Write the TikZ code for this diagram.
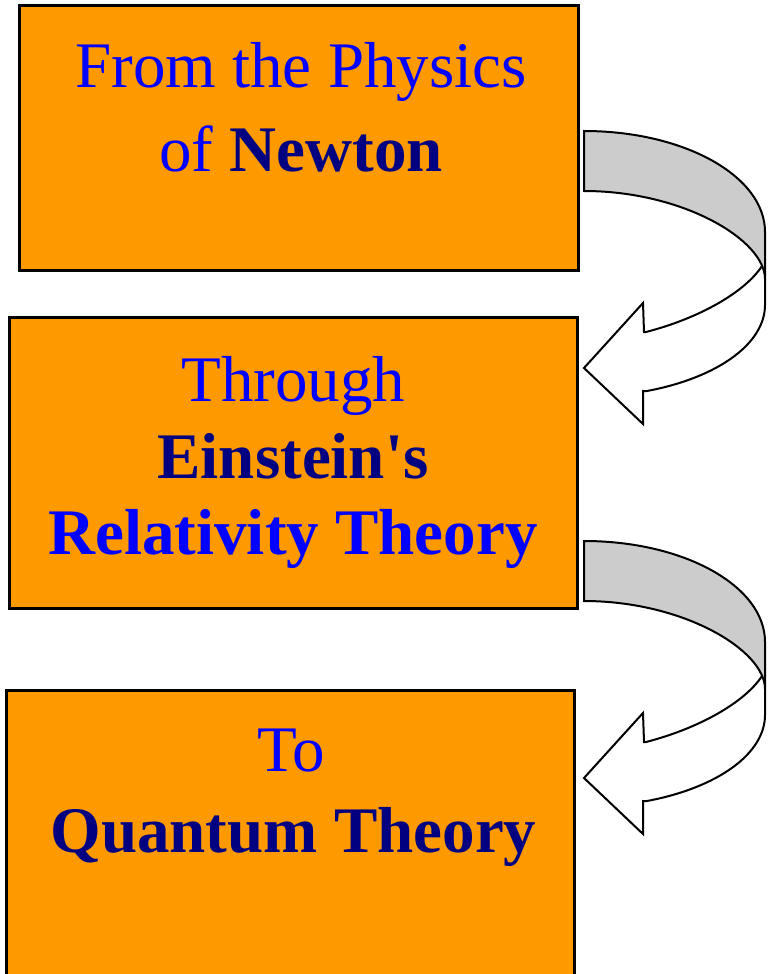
\documentclass[tikz,border=0pt]{standalone}
\usepackage{fontspec}
\setmainfont{Liberation Serif}[Ligatures=TeXOff]
\definecolor{boxorange}{RGB}{255,153,0}
\definecolor{txtblue}{RGB}{0,0,255}
\definecolor{txtnavy}{RGB}{0,0,128}
\definecolor{ribbon}{RGB}{204,204,204}
\tikzset{
  stagebox/.style={draw=black,line width=3pt,fill=boxorange,inner sep=0pt},
  lbl/.style={anchor=base,inner sep=0pt,font=\fontsize{65}{78}\selectfont},
  blue lbl/.style={lbl,text=txtblue},
  navy lbl/.style={lbl,text=txtnavy,font=\fontsize{65}{78}\selectfont\bfseries},
  ribbonface/.style={draw=black,fill=ribbon,line width=2pt,line join=miter},
  ribbonline/.style={draw=black,line width=2pt,line join=miter},
  curvearrow/.pic={
    \filldraw[ribbonface] (584,131) .. controls (684,131) and (765,176) .. (765,232)
      -- (765,279) .. controls (765,240) and (683,191) .. (584,191) -- cycle;
    \draw[ribbonline] (765,279) -- (765,305)
      .. controls (765,343.5) and (718,377.6) .. (647,391) -- (643,391) -- (643,424)
      -- (584,368) -- (643,303) -- (644,332) -- (646,332)
      .. controls (700,318) and (745,292) .. (762,266);
  }
}
\begin{document}
\begin{tikzpicture}[x=1pt,y=-1pt]
\useasboundingbox[fill=white] (0,0) rectangle (769,974);

% boxes
\node (box1) [stagebox,minimum width=558.3pt,minimum height=264.5pt] at (298.85,138.25) {};
\node (box2) [stagebox,minimum width=568.3pt,minimum height=291.7pt] at (293.65,462.85) {};
\node (box3) [stagebox,minimum width=568.5pt,minimum height=310pt] at (290.25,845) {};

% texts
\node (t1a) [blue lbl] at (301,88) {From the Physics};
\node (t1b) [lbl] at (301,171) {\textcolor{txtblue}{of} \textcolor{txtnavy}{\bfseries Newton}};
\node (t2a) [blue lbl] at (293.5,401) {Through};
\node (t2b) [navy lbl] at (293,478) {Einstein's};
\node (t2c) [blue lbl,font=\fontsize{65}{78}\selectfont\bfseries] at (293,554) {Relativity Theory};
\node (t3a) [blue lbl] at (291.5,771) {To};
\node (t3b) [navy lbl] at (293.5,852) {Quantum Theory};

% curved arrows
\pic at (0,0) {curvearrow};
\pic at (0,410) {curvearrow};
\end{tikzpicture}
\end{document}
